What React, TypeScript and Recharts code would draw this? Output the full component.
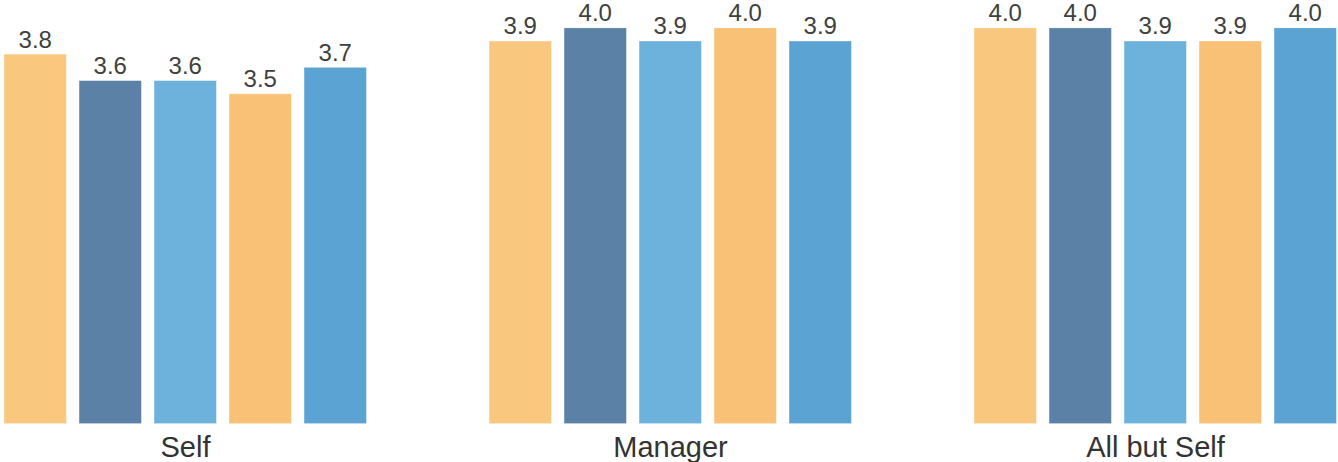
import React from 'react';
import { BarChart, Bar, XAxis, YAxis, LabelList } from 'recharts';

const categories = ['Self', 'Manager', 'All but Self'];
const series1 = [3.8, 3.9, 4.0];
const series2 = [3.6, 4.0, 4.0];
const series3 = [3.6, 3.9, 3.9];
const series4 = [3.5, 4.0, 3.9];
const series5 = [3.7, 3.9, 4.0];
const seriesKeys = ['s1', 's2', 's3', 's4', 's5'];
const seriesColors = ['#F9C87E', '#5B82A6', '#6DB2DD', '#F9C175', '#5AA3D3'];

const data = categories.map((c, i) => ({
  name: c,
  s1: series1[i],
  s2: series2[i],
  s3: series3[i],
  s4: series4[i],
  s5: series5[i],
}));

const FONT = '"Liberation Sans", Arial, sans-serif';

export default function App() {
  return (
    <div style={{ position: 'absolute', left: 0, top: 0, width: 1338, height: 462, overflow: 'hidden', background: '#fff' }}>
      <div style={{ position: 'absolute', left: -57.25, top: 0 }}>
        <BarChart
          width={1455}
          height={462}
          data={data}
          margin={{ top: 27.7, right: 0, bottom: 0, left: 0 }}
          barSize={62.5}
          barGap={12.5}
        >
          <XAxis
            dataKey="name"
            axisLine={false}
            tickLine={false}
            height={38.3}
            tickMargin={7}
            tick={{ fontSize: 29, fill: '#333333', fontFamily: FONT }}
            interval={0}
          />
          <YAxis hide domain={[1, 4]} allowDataOverflow />
          {seriesKeys.map((k, i) => (
            <Bar
              key={k}
              dataKey={k}
              fill={seriesColors[i]}
              stroke="rgba(255,255,255,0.45)"
              strokeWidth={1}
              isAnimationActive={false}
            >
              <LabelList
                dataKey={k}
                position="top"
                offset={6.5}
                formatter={(v: any) => Number(v).toFixed(1)}
                style={{ fontSize: 24, fill: '#404040', fontFamily: FONT }}
              />
            </Bar>
          ))}
        </BarChart>
      </div>
    </div>
  );
}
